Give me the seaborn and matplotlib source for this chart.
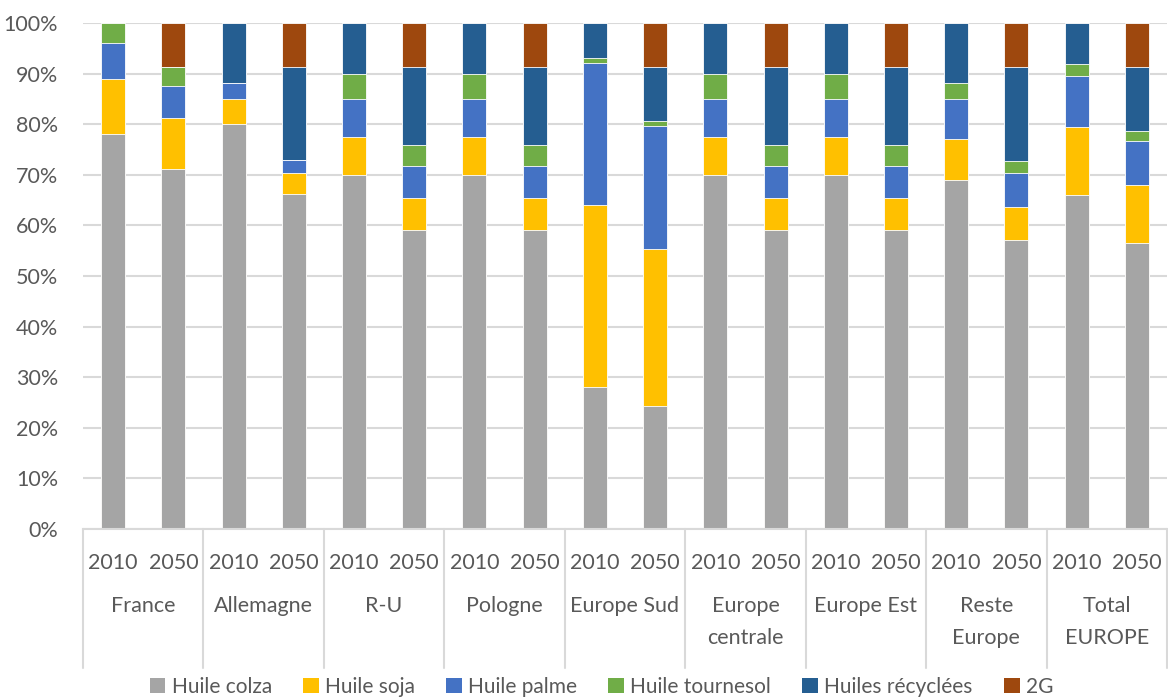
import numpy as np
import pandas as pd
import seaborn as sns
import matplotlib.pyplot as plt
from matplotlib.patches import Patch
import matplotlib.transforms as mtransforms

# data (shares in %)
groups = ['France', 'Allemagne', 'R-U', 'Pologne', 'Europe Sud',
          'Europe\ncentrale', 'Europe Est', 'Reste\nEurope', 'Total\nEUROPE']
years = ['2010', '2050']

colza = [78, 71.1, 80, 66.2, 70, 59, 70, 59, 28, 24.3, 70, 59, 70, 59, 69, 57.1, 66.1, 56.5]
soja = [11, 10.2, 5, 4.1, 7.5, 6.4, 7.5, 6.4, 36, 31, 7.5, 6.4, 7.5, 6.4, 8.1, 6.6, 13.3, 11.5]
palme = [7, 6.3, 3.1, 2.6, 7.5, 6.3, 7.5, 6.3, 28, 24.3, 7.5, 6.3, 7.5, 6.3, 7.9, 6.6, 10.2, 8.7]
tournesol = [4, 3.7, 0, 0, 5, 4.2, 5, 4.2, 1, 1, 5, 4.2, 5, 4.2, 3.1, 2.5, 2.3, 2]
recyclees = [0, 0, 11.9, 18.4, 10, 15.4, 10, 15.4, 7, 10.7, 10, 15.4, 10, 15.4, 11.9, 18.5, 8.1, 12.6]
deuxg = [0, 8.7, 0, 8.7, 0, 8.7, 0, 8.7, 0, 8.7, 0, 8.7, 0, 8.7, 0, 8.7, 0, 8.7]

series_names = ['Huile colza', 'Huile soja', 'Huile palme', 'Huile tournesol',
                'Huiles récyclées', '2G']
series_colors = ['#A5A5A5', '#FFC000', '#4472C4', '#70AD47', '#255E91', '#9E480E']

sns.set_theme(style='white')
plt.rcParams['font.family'] = ['Lato', 'DejaVu Sans']

bars = [f'{g}|{y}' for g in groups for y in years]
df = pd.DataFrame({'bar': bars, 'Huile colza': colza, 'Huile soja': soja,
                   'Huile palme': palme, 'Huile tournesol': tournesol,
                   'Huiles récyclées': recyclees, '2G': deuxg})
cum = df[series_names].cumsum(axis=1)

fig = plt.figure(figsize=(11.68, 6.99), dpi=100)
ax = fig.add_axes([83 / 1168, 1 - 529 / 699, 1084 / 1168, 506 / 699])

# stacked bars: draw cumulative totals from the top series down
for name, color in reversed(list(zip(series_names, series_colors))):
    sns.barplot(x=df['bar'], y=cum[name], order=bars, color=color, width=0.4,
                saturation=1, errorbar=None, edgecolor='white', linewidth=0.6,
                ax=ax, zorder=2)

text_color = '#595959'
grid_color = '#D9D9D9'
fs = 15.5

ax.set_ylim(0, 100)
ax.set_xlim(-0.5, len(bars) - 0.5)
ax.set_yticks(np.arange(0, 101, 10))
ax.set_yticklabels([f'{v}%' for v in range(0, 101, 10)], fontsize=fs, color=text_color)
ax.yaxis.grid(True, color=grid_color, linewidth=1.5, zorder=0)
ax.set_axisbelow(True)
ax.tick_params(axis='y', length=0, pad=18)

ax.set_xticks(range(len(bars)))
ax.set_xticklabels(years * len(groups), fontsize=fs, color=text_color)
ax.tick_params(axis='x', length=0, pad=17)
ax.set_xlabel('')
ax.set_ylabel('')

for side in ['top', 'right', 'left']:
    ax.spines[side].set_visible(False)
ax.spines['bottom'].set_color(grid_color)
ax.spines['bottom'].set_linewidth(1.5)

# second level of the category axis
trans = mtransforms.blended_transform_factory(ax.transData, ax.transAxes)
for i, g in enumerate(groups):
    ax.text(2 * i + 0.5, -0.133, g, transform=trans, ha='center', va='top',
            fontsize=fs, color=text_color, linespacing=1.75)
for k in range(len(groups) + 1):
    ax.plot([2 * k - 0.5, 2 * k - 0.5], [0, -0.275], transform=trans,
            color=grid_color, linewidth=1.5, clip_on=False)

handles = [Patch(facecolor=c, edgecolor='none') for c in series_colors]
fig.legend(handles, series_names, loc='center', bbox_to_anchor=(0.515, 1 - 687 / 699),
           ncol=6, frameon=False, fontsize=15, handlelength=0.75, handleheight=0.75,
           handletextpad=0.3, columnspacing=1.5, labelcolor=text_color)

fig.savefig('out.png', dpi=100)
